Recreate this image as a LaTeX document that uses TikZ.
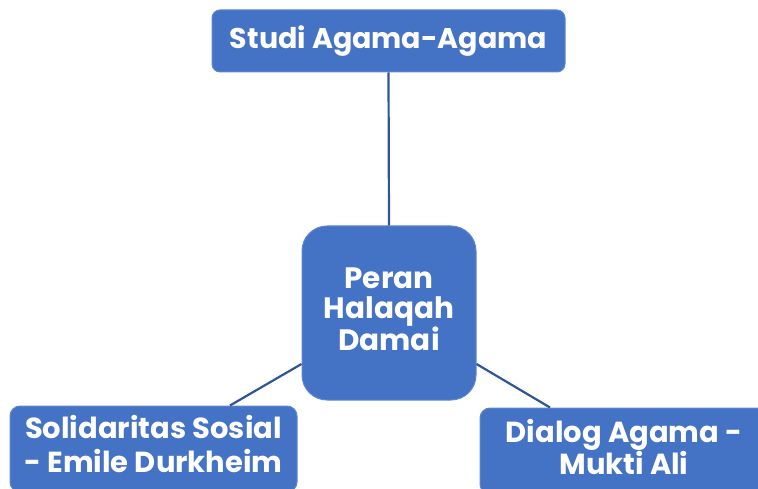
\documentclass[tikz,border=0pt]{standalone}
\usepackage{fontspec}
\setmainfont{Poppins}
\definecolor{boxblue}{HTML}{4472C4}
\definecolor{lineblue}{HTML}{2F5597}
\begin{document}
\begin{tikzpicture}[x=1pt,y=-1pt,
  box/.style={rectangle,fill=boxblue,draw=boxblue!85!white,line width=1pt,text=white,font=\bfseries,align=center,inner sep=0pt},
  conn/.style={draw=lineblue,line width=2.2pt}]
\useasboundingbox (0,0) rectangle (758,489);
\clip (0,0) rectangle (758,489);
\node[box,rounded corners=8pt,minimum width=353pt,minimum height=62pt,font=\bfseries\fontsize{28.5}{30}\selectfont] (top) at (388.5,41) {\raisebox{3pt}{Studi Agama-Agama}};
\node[box,rounded corners=25pt,minimum width=174pt,minimum height=174pt,font=\bfseries\fontsize{29.5}{28}\selectfont] (c) at (389,313) {\raisebox{-1pt}{\begin{tabular}{@{}c@{}}Peran\\Halaqah\\Damai\end{tabular}}};
\node[box,rounded corners=10pt,minimum width=287pt,minimum height=86pt,font=\bfseries\fontsize{29}{34}\selectfont] (bl) at (153.5,449) {\raisebox{2pt}{\begin{tabular}{@{}c@{}}Solidaritas Sosial\\- Emile Durkheim\end{tabular}}};
\node[box,rounded corners=10pt,minimum width=288pt,minimum height=86pt,font=\bfseries\fontsize{29}{30}\selectfont] (br) at (624,451) {\raisebox{4pt}{\begin{tabular}{@{}c@{}}Dialog Agama -\\Mukti Ali\end{tabular}}};
\draw[conn] (top.south) -- (c.north);
\draw[conn] ([yshift=-51pt]c.west) -- ([xshift=76.5pt]bl.north);
\draw[conn] ([yshift=-51pt]c.east) -- ([xshift=-74pt]br.north);
\end{tikzpicture}
\end{document}
